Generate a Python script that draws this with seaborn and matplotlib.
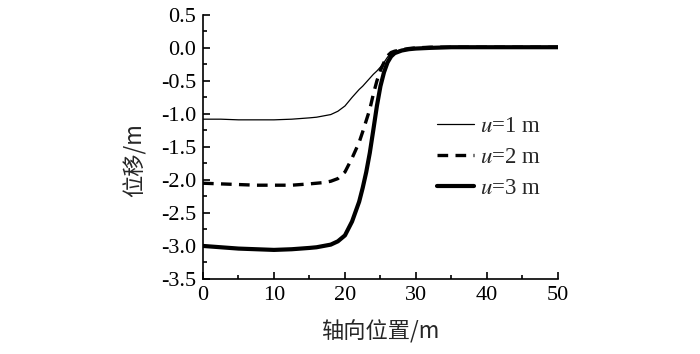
import numpy as np
import pandas as pd
import seaborn as sns
import matplotlib
matplotlib.use("Agg")
import matplotlib.pyplot as plt
from matplotlib.ticker import MultipleLocator

x_pos = [0, 2.5, 5, 7.5, 10, 12.5, 15, 16, 17, 18, 19, 20, 21, 22, 22.5, 23, 23.5,
         24, 24.5, 25, 25.5, 26, 26.5, 27, 28, 29, 30, 32, 35, 40, 45, 50]
u1 = [-1.08, -1.08, -1.09, -1.09, -1.09, -1.08, -1.06, -1.05, -1.03, -1.01, -0.96, -0.88,
      -0.75, -0.63, -0.58, -0.52, -0.46, -0.40, -0.35, -0.29, -0.22, -0.14, -0.08, -0.05,
      -0.03, -0.01, 0.00, 0.01, 0.01, 0.01, 0.01, 0.01]
u2 = [-2.05, -2.06, -2.07, -2.08, -2.08, -2.08, -2.06, -2.05, -2.04, -2.02, -1.98, -1.88,
      -1.67, -1.43, -1.27, -1.10, -0.93, -0.70, -0.50, -0.34, -0.22, -0.12, -0.07, -0.05,
      -0.03, -0.01, 0.00, 0.01, 0.01, 0.01, 0.01, 0.01]
u3 = [-3.00, -3.02, -3.04, -3.05, -3.06, -3.05, -3.03, -3.02, -3.00, -2.98, -2.93, -2.84,
      -2.63, -2.33, -2.12, -1.88, -1.59, -1.24, -0.88, -0.58, -0.37, -0.22, -0.13, -0.08,
      -0.04, -0.02, -0.01, 0.00, 0.01, 0.01, 0.01, 0.01]
labels = ["$u$=1 m", "$u$=2 m", "$u$=3 m"]
series = [u1, u2, u3]
x_ticks = [0, 10, 20, 30, 40, 50]
y_ticks = [0.5, 0.0, -0.5, -1.0, -1.5, -2.0, -2.5, -3.0, -3.5]

sns.set_style("ticks")
plt.rcParams["font.family"] = ["Liberation Serif", "DejaVu Serif"]
plt.rcParams["mathtext.fontset"] = "stix"

fig = plt.figure(figsize=(7.0, 3.54), dpi=100)
ax = fig.add_axes([0.29, 0.212, 0.507, 0.746])

styles = [dict(lw=0.9, ls="-"), dict(lw=2.4, ls=(0, (3.2, 2.2))), dict(lw=3.0, ls="-")]
for lab, vals, st in zip(labels, series, styles):
    df = pd.DataFrame({"x": x_pos, "y": vals})
    sns.lineplot(data=df, x="x", y="y", ax=ax, color="black", linewidth=st["lw"],
                 linestyle=st["ls"], label=lab, sort=False)

ax.set_xlim(0, 50)
ax.set_ylim(-3.5, 0.5)
ax.set_xticks(x_ticks)
ax.set_yticks(y_ticks)
ax.set_yticklabels([f"{v:.1f}" for v in y_ticks])
ax.xaxis.set_minor_locator(MultipleLocator(5))
ax.yaxis.set_minor_locator(MultipleLocator(0.25))
ax.tick_params(which="both", direction="in", labelsize=16, width=1.2, colors="black")
ax.tick_params(which="major", length=5)
ax.tick_params(which="minor", length=3)
ax.tick_params(axis="x", pad=5)
ax.tick_params(axis="y", pad=5)
for s in ["top", "right"]:
    ax.spines[s].set_visible(False)
for s in ["left", "bottom"]:
    ax.spines[s].set_linewidth(1.2)
    ax.spines[s].set_color("black")

cjk = ["Noto Sans CJK SC", "DejaVu Sans"]
ax.set_xlabel("轴向位置/m", family=cjk, fontsize=16, labelpad=11)
ax.set_ylabel("位移/m", family=cjk, fontsize=16)
ax.yaxis.set_label_coords(-0.158, 0.45)

leg = ax.legend(loc="upper left", bbox_to_anchor=(0.659, 0.616), frameon=False,
                fontsize=16.5, handlelength=1.6, handletextpad=0.3, labelspacing=0.43,
                borderpad=0, borderaxespad=0)

fig.savefig("out.png", dpi=100)
